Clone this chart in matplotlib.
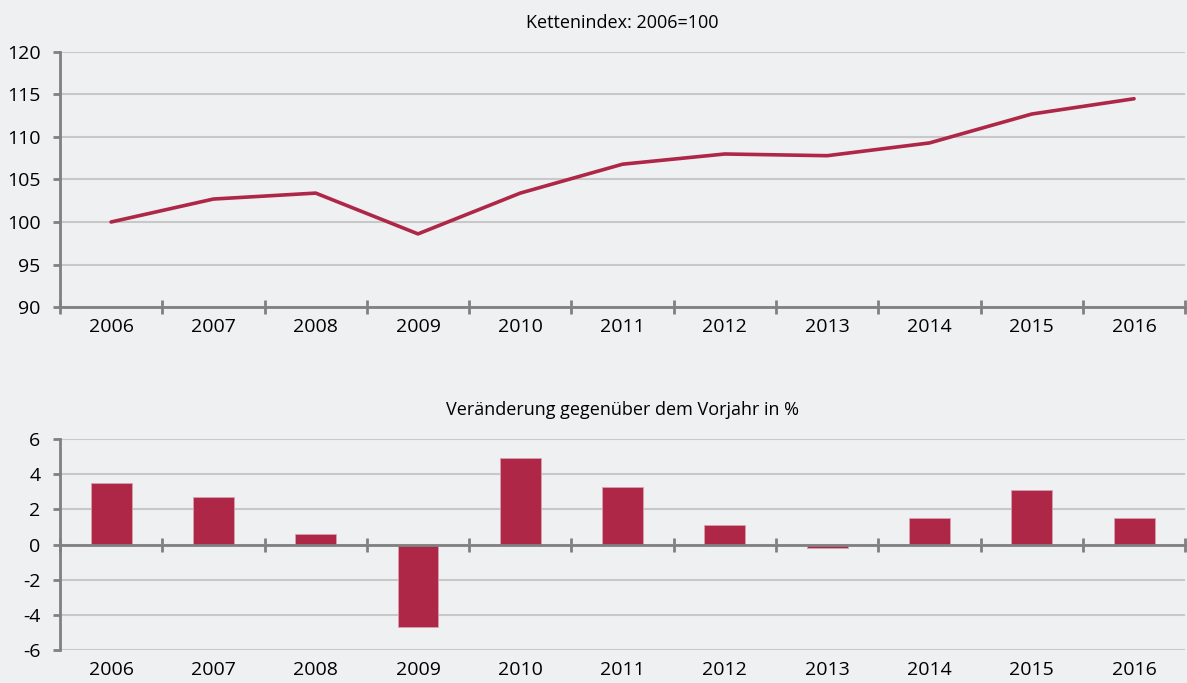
"""Kettenindex und Veränderung gegenüber dem Vorjahr, 2006-2016."""

import numpy as np
import matplotlib.pyplot as plt
from matplotlib.ticker import MultipleLocator

# Data
years = ["2006", "2007", "2008", "2009", "2010", "2011",
         "2012", "2013", "2014", "2015", "2016"]
index_values = [100.0, 102.7, 103.4, 98.6, 103.4, 106.8,
                108.0, 107.8, 109.3, 112.7, 114.5]
change_pct = [3.5, 2.7, 0.6, -4.7, 4.9, 3.3, 1.1, -0.2, 1.5, 3.1, 1.5]

bg = "#EFF0F2"
red = "#AE2746"
spine_grey = "#808080"
grid_grey = "#C8C8C8"

plt.rcParams["font.family"] = ["Open Sans", "DejaVu Sans"]
plt.rcParams["font.size"] = 14
plt.rcParams["axes.unicode_minus"] = False

fig = plt.figure(figsize=(11.87, 6.83), dpi=100, facecolor=bg)
ax1 = fig.add_axes([0.0505, 0.5505, 0.948, 0.3734], facecolor=bg)
ax2 = fig.add_axes([0.0505, 0.0483, 0.948, 0.3089], facecolor=bg)

x = np.arange(len(years))


def style_axis(ax):
    for side in ("top", "right"):
        ax.spines[side].set_visible(False)
    for side in ("left", "bottom"):
        ax.spines[side].set_color(spine_grey)
        ax.spines[side].set_linewidth(2)
    ax.set_xlim(-0.5, len(years) - 0.5)
    ax.set_xticks(x)
    ax.xaxis.set_minor_locator(MultipleLocator(1, offset=0.5))
    ax.tick_params(axis="x", which="major", length=0, pad=8)
    ax.tick_params(axis="x", which="minor", direction="inout", length=10,
                   width=2, color=spine_grey)
    ax.tick_params(axis="y", which="major", direction="out", length=5,
                   width=2, color=spine_grey, pad=9)
    ax.yaxis.grid(True, color=grid_grey, linewidth=1.5)
    ax.set_axisbelow(True)


# Top: chain index
style_axis(ax1)
ax1.plot(x, index_values, color=red, linewidth=2.6, solid_capstyle="round")
ax1.set_ylim(90, 120)
ax1.set_yticks(range(90, 121, 5))
ax1.set_xticklabels(years)
ax1.set_title("Kettenindex: 2006=100", fontsize=13, pad=17)

# Bottom: year-on-year change
style_axis(ax2)
ax2.bar(x, change_pct, width=0.4, color=red, edgecolor="#D9A0B0", linewidth=0.6)
ax2.set_ylim(-6, 6)
ax2.set_yticks(range(-6, 7, 2))
ax2.spines["bottom"].set_position(("data", 0))
ax2.set_xticklabels([])
sec = ax2.secondary_xaxis("bottom")
sec.set_xticks(x, labels=years)
sec.tick_params(length=0, pad=8)
sec.spines["bottom"].set_visible(False)
ax2.set_title("Veränderung gegenüber dem Vorjahr in %", fontsize=13, pad=17)

fig.savefig("out.png", dpi=100, facecolor=bg)
